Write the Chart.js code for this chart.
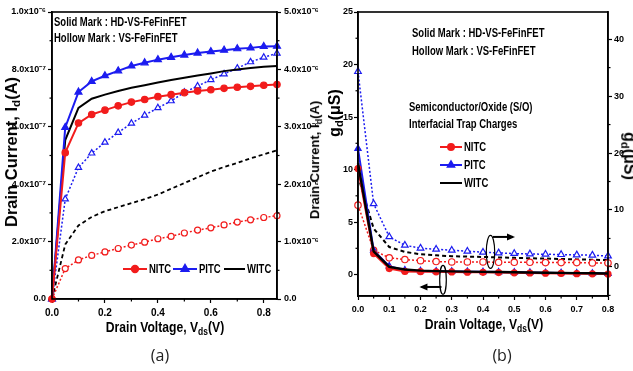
<!DOCTYPE html>
<html>
<head>
<meta charset="utf-8">
<script src="https://cdn.jsdelivr.net/npm/chart.js@4.4.0/dist/chart.umd.min.js"></script>
<style>
  body { margin: 0; background: #fff; }
  #wrap { position: relative; width: 633px; height: 371px; overflow: hidden; background: #fff;
          font-family: 'Liberation Sans', Arial, sans-serif; }
  canvas { position: absolute; top: 0; }
  #chartA { left: 0; }
  #chartB { left: 320px; }
  .lbl { position: absolute; font-weight: bold; white-space: nowrap; color: #000; line-height: 1; }
  .note { font-size: 12.5px; transform-origin: left center; transform: translate(0, -50%) scaleX(0.76); }
  .up { transform: translate(-50%, -50%) rotate(-90deg); }
  .down { transform: translate(-50%, -50%) rotate(90deg); }
  .xt { font-size: 15px; transform: translate(-50%, -50%) scaleX(0.81); }
  .cap { position: absolute; font-family: 'Open Sans', 'Noto Sans', sans-serif; font-size: 16px; color: #222; transform: translate(-50%, -50%); }
  sub { font-size: 70%; vertical-align: -0.3em; }
</style>
</head>
<body>
<div id="wrap">
  <canvas id="chartA" width="320" height="320"></canvas>
  <canvas id="chartB" width="313" height="320"></canvas>

  <div class="lbl note" style="left:54px; top:22px;">Solid Mark : HD-VS-FeFinFET</div>
  <div class="lbl note" style="left:54px; top:38px;">Hollow Mark : VS-FeFinFET</div>
  <div class="lbl up" style="left:13px; top:152px; font-size:16.5px;">Drain Current, I<sub>d</sub>(A)</div>
  <div class="lbl up" style="left:316px; top:160px; font-size:13px;">Drain Current, I<sub>d</sub>(A)</div>
  <div class="lbl xt" style="left:165px; top:328px;">Drain Voltage, V<sub>ds</sub>(V)</div>
  <div class="cap" style="left:160px; top:355px;">(a)</div>

  <div class="lbl note" style="left:412px; top:33px;">Solid Mark : HD-VS-FeFinFET</div>
  <div class="lbl note" style="left:412px; top:51px;">Hollow Mark : VS-FeFinFET</div>
  <div class="lbl note" style="left:409px; top:107px;">Semiconductor/Oxide (S/O)</div>
  <div class="lbl note" style="left:409px; top:124px;">Interfacial Trap Charges</div>
  <div class="lbl up" style="left:336px; top:113px; font-size:16px;">g<sub>d</sub>(μS)</div>
  <div class="lbl down" style="left:628px; top:156px; font-size:16px;">g<sub>d</sub>(μS)</div>
  <div class="lbl xt" style="left:484px; top:325px;">Drain Voltage, V<sub>ds</sub>(V)</div>
  <div class="cap" style="left:502px; top:355px;">(b)</div>
</div>

<script>
// ---------- panel (a) data ----------
const vdsA = [0, 0.05, 0.1, 0.15, 0.2, 0.25, 0.3, 0.35, 0.4, 0.45, 0.5, 0.55, 0.6, 0.65, 0.7, 0.75, 0.8, 0.85];
const nitcSolidA = [0, 5.10e-7, 6.13e-7, 6.43e-7, 6.58e-7, 6.73e-7, 6.86e-7, 6.95e-7, 7.05e-7, 7.12e-7, 7.19e-7, 7.25e-7, 7.29e-7, 7.34e-7, 7.38e-7, 7.41e-7, 7.45e-7, 7.47e-7];
const pitcSolidA = [0, 5.98e-7, 7.21e-7, 7.58e-7, 7.78e-7, 7.95e-7, 8.12e-7, 8.23e-7, 8.34e-7, 8.42e-7, 8.50e-7, 8.57e-7, 8.62e-7, 8.67e-7, 8.72e-7, 8.75e-7, 8.80e-7, 8.81e-7];
const witcSolidA = [0, 5.54e-7, 6.66e-7, 6.98e-7, 7.12e-7, 7.25e-7, 7.36e-7, 7.45e-7, 7.54e-7, 7.63e-7, 7.71e-7, 7.79e-7, 7.86e-7, 7.94e-7, 8.00e-7, 8.05e-7, 8.09e-7, 8.12e-7];
const nitcHollowA = [0, 0.53e-6, 0.68e-6, 0.76e-6, 0.82e-6, 0.88e-6, 0.94e-6, 0.99e-6, 1.05e-6, 1.09e-6, 1.15e-6, 1.20e-6, 1.24e-6, 1.29e-6, 1.34e-6, 1.38e-6, 1.42e-6, 1.45e-6];
const pitcHollowA = [0, 1.74e-6, 2.29e-6, 2.54e-6, 2.73e-6, 2.90e-6, 3.06e-6, 3.20e-6, 3.33e-6, 3.45e-6, 3.60e-6, 3.71e-6, 3.82e-6, 3.92e-6, 4.02e-6, 4.13e-6, 4.21e-6, 4.28e-6];
const witcHollowA = [0, 0.95e-6, 1.28e-6, 1.43e-6, 1.53e-6, 1.60e-6, 1.67e-6, 1.74e-6, 1.82e-6, 1.92e-6, 2.02e-6, 2.12e-6, 2.22e-6, 2.30e-6, 2.37e-6, 2.45e-6, 2.52e-6, 2.59e-6];

const xTicksA = [0, 0.2, 0.4, 0.6, 0.8];
const xLabelsA = ['0.0', '0.2', '0.4', '0.6', '0.8'];
const xMinorA = [0.1, 0.3, 0.5, 0.7];
const yTicksA = [0, 2e-7, 4e-7, 6e-7, 8e-7, 1e-6];
const yLabelsA = ['0.0', '2.0x10⁻⁷', '4.0x10⁻⁷', '6.0x10⁻⁷', '8.0x10⁻⁷', '1.0x10⁻⁶'];
const yMinorA = [1e-7, 3e-7, 5e-7, 7e-7, 9e-7];
const y2TicksA = [0, 1e-6, 2e-6, 3e-6, 4e-6, 5e-6];
const y2LabelsA = ['0.0', '1.0x10⁻⁶', '2.0x10⁻⁶', '3.0x10⁻⁶', '4.0x10⁻⁶', '5.0x10⁻⁶'];
const y2MinorA = [0.5e-6, 1.5e-6, 2.5e-6, 3.5e-6, 4.5e-6];

// ---------- panel (b) data ----------
const vdsB = [0, 0.05, 0.1, 0.15, 0.2, 0.25, 0.3, 0.35, 0.4, 0.45, 0.5, 0.55, 0.6, 0.65, 0.7, 0.75, 0.8];
const nitcSolidB = [10.1, 2.0, 0.57, 0.30, 0.28, 0.26, 0.25, 0.23, 0.21, 0.19, 0.17, 0.15, 0.13, 0.11, 0.09, 0.07, 0.05];
const pitcSolidB = [12.0, 2.3, 0.80, 0.42, 0.35, 0.32, 0.30, 0.28, 0.26, 0.24, 0.22, 0.20, 0.18, 0.16, 0.14, 0.12, 0.10];
const witcSolidB = [10.6, 2.2, 0.73, 0.48, 0.38, 0.33, 0.30, 0.28, 0.26, 0.24, 0.22, 0.20, 0.18, 0.16, 0.14, 0.12, 0.10];
const nitcHollowB = [10.85, 2.93, 1.60, 1.30, 1.10, 0.95, 0.88, 0.88, 0.88, 0.82, 0.82, 0.82, 0.76, 0.76, 0.76, 0.70, 0.70];
const pitcHollowB = [34.3, 11.1, 5.3, 3.8, 3.3, 3.1, 2.93, 2.76, 2.58, 2.46, 2.35, 2.28, 2.23, 2.17, 2.11, 2.06, 1.93];
const witcHollowB = [16.0, 6.75, 3.5, 2.64, 2.23, 2.05, 1.88, 1.82, 1.76, 1.68, 1.60, 1.53, 1.47, 1.40, 1.33, 1.26, 1.20];

const xTicksB = [0, 0.1, 0.2, 0.3, 0.4, 0.5, 0.6, 0.7, 0.8];
const xLabelsB = ['0.0', '0.1', '0.2', '0.3', '0.4', '0.5', '0.6', '0.7', '0.8'];
const xMinorB = [0.05, 0.15, 0.25, 0.35, 0.45, 0.55, 0.65, 0.75];
const yTicksB = [0, 5, 10, 15, 20, 25];
const yLabelsB = ['0', '5', '10', '15', '20', '25'];
const yMinorB = [2.5, 7.5, 12.5, 17.5, 22.5];
const y2TicksB = [0, 10, 20, 30, 40];
const y2LabelsB = ['0', '10', '20', '30', '40'];
const y2MinorB = [-5, 5, 15, 25, 35];

const RED = '#f21c1c';
const BLUE = '#1c1cf0';
const BLACK = '#000';
const FONT = "'Liberation Sans', Arial, sans-serif";

function pts(xs, ys) {
    return xs.map((x, i) => ({ x: x, y: ys[i] }));
}

// frame, minor ticks, legend and the little ellipse/arrow markers
const extras = {
    id: 'extras',
    afterDatasetsDraw(chart, args, opts) {
        const ctx = chart.ctx;
        const a = chart.chartArea;
        ctx.save();
        ctx.strokeStyle = '#000';
        ctx.lineWidth = 1.6;
        ctx.strokeRect(a.left, a.top, a.right - a.left, a.bottom - a.top);

        ctx.lineWidth = 1.2;
        (opts.minor || []).forEach(m => {
            const s = chart.scales[m.axis];
            m.values.forEach(v => {
                const p = s.getPixelForValue(v);
                ctx.beginPath();
                if (s.isHorizontal()) { ctx.moveTo(p, a.bottom); ctx.lineTo(p, a.bottom + 2.5); }
                else if (s.position === 'left') { ctx.moveTo(a.left, p); ctx.lineTo(a.left - 2.5, p); }
                else { ctx.moveTo(a.right, p); ctx.lineTo(a.right + 2.5, p); }
                ctx.stroke();
            });
        });

        // legend (condensed bold text like the original)
        if (opts.legend) {
            opts.legend.items.forEach(it => {
                const ds = chart.data.datasets[it.ds];
                const y = it.y;
                ctx.strokeStyle = ds.borderColor;
                ctx.lineWidth = 2;
                ctx.setLineDash([]);
                ctx.beginPath();
                ctx.moveTo(it.x0, y);
                ctx.lineTo(it.x1, y);
                ctx.stroke();
                if (ds.pointRadius > 0) {
                    ctx.fillStyle = ds.pointBackgroundColor;
                    ctx.strokeStyle = ds.borderColor;
                    Chart.helpers.drawPoint(ctx, {
                        pointStyle: ds.pointStyle, radius: ds.pointRadius, rotation: 0, borderWidth: 1
                    }, (it.x0 + it.x1) / 2, y);
                }
                ctx.save();
                ctx.translate(it.x1 + 2, y + 0.5);
                ctx.scale(0.76, 1);
                ctx.font = 'bold 12.5px ' + FONT;
                ctx.textBaseline = 'middle';
                ctx.fillStyle = '#000';
                ctx.fillText(ds.label, 0, 0);
                ctx.restore();
            });
        }

        // ellipses with arrows
        (opts.marks || []).forEach(m => {
            const sx = chart.scales.x, sy = chart.scales[m.axis];
            const cx = sx.getPixelForValue(m.cx), cy = sy.getPixelForValue(m.cy);
            ctx.strokeStyle = '#000';
            ctx.lineWidth = 1.2;
            ctx.beginPath();
            ctx.ellipse(cx, cy, m.rx, m.ry, 0, 0, Math.PI * 2);
            ctx.stroke();
            const x0 = sx.getPixelForValue(m.ax0), x1 = sx.getPixelForValue(m.ax1);
            const ay = sy.getPixelForValue(m.ay);
            ctx.lineWidth = 2;
            ctx.beginPath();
            ctx.moveTo(x0, ay);
            ctx.lineTo(x1, ay);
            ctx.stroke();
            const dir = Math.sign(x1 - x0);
            ctx.fillStyle = '#000';
            ctx.beginPath();
            ctx.moveTo(x1 + dir * 2, ay);
            ctx.lineTo(x1 - dir * 6, ay - 3.5);
            ctx.lineTo(x1 - dir * 6, ay + 3.5);
            ctx.closePath();
            ctx.fill();
        });
        ctx.restore();
    }
};

function series(label, xs, ys, color, axis, style) {
    return Object.assign({
        label: label,
        data: pts(xs, ys),
        yAxisID: axis,
        borderColor: color,
        backgroundColor: color,
        pointBorderColor: color,
        pointBackgroundColor: color,
        borderWidth: 2,
        tension: 0,
        clip: false,
        pointRadius: 0,
        pointBorderWidth: 1.2
    }, style);
}

function axis(opts) {
    const { pos, min, max, ticks, labels, width, height, size, pad } = opts;
    return {
        type: 'linear',
        position: pos,
        min: min,
        max: max,
        afterBuildTicks: s => { s.ticks = ticks.map(v => ({ value: v })); },
        afterFit: s => {
            if (width !== undefined) s.width = width;
            if (height !== undefined) s.height = height;
        },
        ticks: {
            callback: (v, i) => labels[i],
            font: { family: FONT, size: size, weight: 'bold' },
            color: '#000',
            padding: pad,
            maxRotation: 0,
            autoSkip: false
        },
        grid: { display: true, drawOnChartArea: false, drawTicks: true, tickLength: 4, color: '#000', tickWidth: 1.2 },
        border: { display: true, color: '#000', width: 1.6 }
    };
}

// ---------- chart (a) ----------
new Chart(document.getElementById('chartA'), {
    type: 'line',
    data: {
        datasets: [
            series('NITC', vdsA, nitcSolidA, RED, 'y', { pointStyle: 'circle', pointRadius: 3.2 }),
            series('PITC', vdsA, pitcSolidA, BLUE, 'y', { pointStyle: 'triangle', pointRadius: 4 }),
            series('WITC', vdsA, witcSolidA, BLACK, 'y', {}),
            series('NITC', vdsA, nitcHollowA, RED, 'y1', { pointStyle: 'circle', pointRadius: 3, pointBackgroundColor: '#fff', borderWidth: 1.5, borderDash: [2, 2] }),
            series('PITC', vdsA, pitcHollowA, BLUE, 'y1', { pointStyle: 'triangle', pointRadius: 3.6, pointBackgroundColor: '#fff', borderWidth: 1.5, borderDash: [2, 2] }),
            series('WITC', vdsA, witcHollowA, BLACK, 'y1', { borderWidth: 1.8, borderDash: [4, 3] })
        ]
    },
    options: {
        responsive: false,
        animation: false,
        layout: { padding: { top: 12, left: 0, right: 0, bottom: 0 }, autoPadding: false },
        plugins: {
            legend: { display: false },
            tooltip: { enabled: false },
            extras: {
                minor: [
                    { axis: 'x', values: xMinorA },
                    { axis: 'y', values: yMinorA },
                    { axis: 'y1', values: y2MinorA }
                ],
                legend: {
                    items: [
                        { ds: 0, x0: 123, x1: 147, y: 269 },
                        { ds: 1, x0: 173, x1: 197, y: 269 },
                        { ds: 2, x0: 224, x1: 245, y: 269 }
                    ]
                }
            }
        },
        scales: {
            x: axis({ pos: 'bottom', min: 0, max: 0.85, ticks: xTicksA, labels: xLabelsA, height: 21, size: 10, pad: 4 }),
            y: axis({ pos: 'left', min: 0, max: 1e-6, ticks: yTicksA, labels: yLabelsA, width: 52, size: 9, pad: 2 }),
            y1: axis({ pos: 'right', min: 0, max: 5e-6, ticks: y2TicksA, labels: y2LabelsA, width: 43, size: 9, pad: 3 })
        }
    },
    plugins: [extras]
});

// ---------- chart (b) ----------
new Chart(document.getElementById('chartB'), {
    type: 'line',
    data: {
        datasets: [
            series('WITC', vdsB, witcSolidB, BLACK, 'y', { borderWidth: 2.4 }),
            series('NITC', vdsB, nitcSolidB, RED, 'y', { pointStyle: 'circle', pointRadius: 3 }),
            series('PITC', vdsB, pitcSolidB, BLUE, 'y', { pointStyle: 'triangle', pointRadius: 3.6 }),
            series('NITC', vdsB, nitcHollowB, RED, 'y1', { pointStyle: 'circle', pointRadius: 3.2, pointBackgroundColor: '#fff', borderWidth: 1.5, borderDash: [2, 2] }),
            series('PITC', vdsB, pitcHollowB, BLUE, 'y1', { pointStyle: 'triangle', pointRadius: 3.8, pointBackgroundColor: '#fff', borderWidth: 1.5, borderDash: [2, 2] }),
            series('WITC', vdsB, witcHollowB, BLACK, 'y1', { borderWidth: 2, borderDash: [4, 3] })
        ]
    },
    options: {
        responsive: false,
        animation: false,
        layout: { padding: { top: 12, left: 0, right: 0, bottom: 0 }, autoPadding: false },
        plugins: {
            legend: { display: false },
            tooltip: { enabled: false },
            extras: {
                minor: [
                    { axis: 'x', values: xMinorB },
                    { axis: 'y', values: yMinorB },
                    { axis: 'y1', values: y2MinorB }
                ],
                legend: {
                    items: [
                        { ds: 1, x0: 120, x1: 142, y: 147 },
                        { ds: 2, x0: 120, x1: 142, y: 165 },
                        { ds: 0, x0: 120, x1: 142, y: 183 }
                    ]
                },
                marks: [
                    { axis: 'y1', cx: 0.424, cy: 2.64, rx: 4.2, ry: 16.5, ax0: 0.432, ax1: 0.496, ay: 5.27 },
                    { axis: 'y', cx: 0.272, cy: -0.5, rx: 3.3, ry: 14.5, ax0: 0.267, ax1: 0.203, ay: -1.18 }
                ]
            }
        },
        scales: {
            x: axis({ pos: 'bottom', min: 0, max: 0.8, ticks: xTicksB, labels: xLabelsB, height: 24, size: 9, pad: 4 }),
            y: axis({ pos: 'left', min: -2.04, max: 25, ticks: yTicksB, labels: yLabelsB, width: 38, size: 9, pad: 1 }),
            y1: axis({ pos: 'right', min: -5.1, max: 44.76, ticks: y2TicksB, labels: y2LabelsB, width: 25, size: 9, pad: 2 })
        }
    },
    plugins: [extras]
});
</script>
</body>
</html>
